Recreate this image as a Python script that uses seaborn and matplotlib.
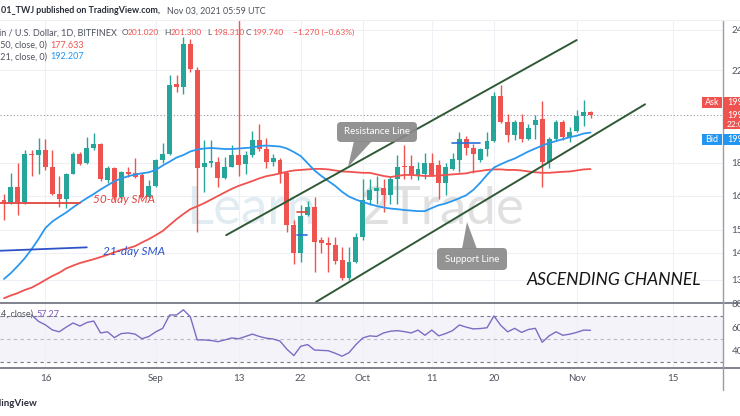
import numpy as np
import pandas as pd
import matplotlib
matplotlib.use("Agg")
import matplotlib.pyplot as plt
import matplotlib.dates as mdates
from matplotlib.patches import Rectangle, FancyBboxPatch, Polygon
from matplotlib.lines import Line2D
from matplotlib.ticker import NullLocator, NullFormatter
from matplotlib.transforms import IdentityTransform
import seaborn as sns

# ---------------- data ----------------
start_date = "2021-08-10"
open_ = [166.3, 165.5, 170.8, 165.5, 183.7, 183.1, 185.1, 178.3, 168.5, 166.5,
         175.9, 183.7, 179.8, 186.1, 187.6, 173.5, 178.0, 167.1, 176.4, 176.2,
         175.3, 167.1, 171.3, 181.1, 183.5, 213.3, 212.1, 232.5, 220.0, 178.3,
         179.8, 180.4, 174.4, 178.6, 183.1, 179.5, 183.1, 189.1, 185.4, 180.4,
         181.1, 176.2, 157.4, 148.3, 160.8, 163.7, 152.4, 151.5, 150.8, 145.8,
         140.3, 145.4, 153.5, 166.1, 169.3, 170.4, 167.9, 174.0, 178.9, 178.9,
         175.3, 175.6, 179.9, 179.1, 172.3, 177.6, 181.3, 189.4, 185.8, 181.2,
         185.4, 188.7, 207.9, 196.8, 191.1, 196.5, 189.7, 195.5, 197.8, 180.2,
         189.7, 196.5, 190.4, 193.0, 199.2, 201.02]
high = [168.3, 176.2, 179.8, 185.1, 185.1, 189.8, 189.4, 185.1, 175.0, 176.2,
        184.4, 184.4, 190.2, 192.1, 187.9, 178.8, 178.6, 176.9, 178.6, 182.1,
        176.0, 173.4, 181.4, 187.9, 217.7, 217.7, 236.5, 235.0, 221.6, 189.1,
        189.1, 182.5, 182.5, 187.2, 252.0, 184.6, 192.8, 195.6, 190.0, 183.5,
        181.8, 176.8, 159.1, 164.3, 165.9, 167.2, 153.4, 153.5, 153.5, 150.2,
        150.2, 154.6, 173.9, 173.9, 174.9, 173.9, 174.9, 183.1, 187.1, 183.1,
        180.5, 184.1, 184.1, 181.1, 180.1, 183.9, 192.6, 190.7, 187.4, 186.1,
        192.6, 209.8, 213.1, 200.1, 197.5, 200.1, 195.7, 199.6, 205.6, 190.4,
        197.5, 197.5, 194.6, 202.0, 206.4, 201.3]
low = [159.1, 164.9, 160.8, 164.9, 175.0, 175.6, 177.3, 167.9, 163.7, 163.2,
       175.6, 179.1, 179.5, 185.1, 173.2, 172.3, 166.0, 166.5, 174.8, 174.4,
       166.9, 166.9, 171.0, 179.8, 183.1, 210.0, 209.0, 219.0, 155.2, 169.2,
       178.6, 171.0, 173.7, 178.3, 175.0, 175.6, 182.5, 184.6, 178.0, 179.0,
       172.3, 154.9, 144.8, 145.4, 160.4, 142.3, 148.3, 142.3, 144.6, 139.8,
       139.8, 144.9, 152.4, 164.5, 164.7, 162.0, 164.7, 164.7, 174.0, 174.0,
       173.5, 174.0, 175.0, 166.5, 168.0, 177.3, 176.7, 183.1, 176.2, 180.5,
       182.6, 188.2, 196.1, 188.5, 189.1, 188.5, 189.0, 189.7, 171.0, 178.0,
       189.1, 189.1, 188.5, 192.3, 195.1, 198.31]
close = [165.6, 171.0, 165.5, 183.4, 183.1, 185.1, 178.3, 168.3, 166.5, 175.9,
         183.7, 179.5, 186.1, 187.6, 173.7, 178.2, 167.1, 176.4, 175.6, 174.7,
         167.1, 171.4, 181.1, 183.4, 212.9, 212.1, 232.5, 220.5, 178.0, 179.8,
         180.8, 174.4, 178.6, 183.1, 179.2, 183.1, 189.1, 185.4, 180.4, 181.8,
         175.6, 157.4, 148.3, 160.4, 163.7, 151.8, 151.3, 150.8, 145.6, 140.3,
         145.4, 153.5, 166.1, 169.8, 170.4, 167.9, 174.0, 178.6, 178.3, 175.3,
         177.8, 179.9, 175.4, 172.3, 178.6, 181.4, 189.4, 185.8, 183.6, 185.4,
         188.7, 207.9, 196.8, 191.1, 196.5, 189.7, 194.3, 197.5, 180.2, 189.7,
         196.5, 190.4, 192.4, 199.2, 201.0, 199.74]
sma50 = [134.4, 135.2, 135.9, 136.8, 137.5, 138.6, 139.8, 141.0, 142.0, 143.3,
         144.2, 145.0, 145.6, 146.2, 146.9, 147.6, 148.4, 149.2, 149.7, 150.4,
         151.6, 152.7, 154.0, 155.4, 157.4, 159.4, 161.2, 162.9, 163.9, 165.0,
         166.3, 167.6, 168.9, 170.2, 171.3, 172.2, 173.1, 174.1, 174.9, 175.4,
         176.0, 176.6, 177.1, 177.3, 177.5, 177.7, 177.7, 177.5, 177.1, 176.7,
         176.6, 176.4, 176.2, 176.2, 175.6, 175.0, 174.6, 175.0, 175.4, 175.4,
         175.2, 175.0, 175.0, 175.2, 175.4, 175.6, 175.8, 176.0, 176.6, 176.9,
         177.3, 177.5, 177.5, 177.3, 177.3, 177.1, 176.7, 176.4, 176.2, 176.2,
         176.4, 176.6, 176.7, 177.1, 177.5, 177.633]
sma21 = [140.1, 141.9, 144.1, 146.5, 149.4, 152.7, 156.4, 158.6, 160.2, 161.7,
         163.5, 165.2, 166.8, 168.3, 170.0, 171.5, 173.0, 174.1, 174.9, 175.6,
         176.0, 176.4, 177.3, 179.0, 180.5, 182.1, 183.1, 184.5, 185.3, 185.7,
         185.9, 185.7, 185.5, 185.5, 185.7, 185.9, 186.1, 186.7, 186.9, 186.7,
         186.5, 185.7, 184.3, 182.7, 179.9, 177.1, 175.0, 173.1, 171.3, 169.1,
         167.4, 166.3, 165.4, 164.7, 164.0, 163.5, 163.1, 162.9, 162.6, 162.4,
         162.2, 162.2, 163.3, 164.3, 164.9, 165.8, 166.8, 167.9, 169.8, 172.4,
         175.4, 178.2, 179.5, 180.7, 181.7, 183.1, 184.5, 185.7, 186.9, 187.9,
         188.7, 189.5, 190.3, 190.9, 191.8, 192.207]
nan = np.nan
rsi = [nan, nan, nan, nan, 70.5, 65.0, 62.0, 57.6, 56.0, 60.0,
       63.6, 61.0, 64.0, 65.3, 55.0, 56.0, 51.0, 54.5, 55.0, 54.0,
       50.0, 52.0, 56.0, 59.0, 70.5, 70.5, 75.0, 69.0, 49.0, 49.0,
       48.5, 47.5, 49.0, 50.7, 50.0, 52.0, 54.0, 52.0, 50.5, 49.8,
       48.0, 41.0, 35.5, 43.5, 45.0, 40.3, 40.0, 39.7, 37.5, 35.0,
       38.0, 45.0, 50.7, 52.5, 52.0, 55.0, 56.5, 57.0, 56.2, 55.0,
       57.5, 53.0, 57.5, 52.5, 54.5, 57.0, 61.9, 60.0, 58.5, 58.8,
       59.5, 69.7, 61.5, 56.0, 59.0, 55.5, 58.0, 59.0, 47.0, 52.5,
       56.0, 53.0, 54.0, 55.5, 57.5, 57.27]

# trend-line drawings: (day offset from first candle, price)
upper_days = [32.2, 83.0]
upper_price = [154.0, 234.7]
lower_days = [45.2, 92.9]
lower_price = [133.3, 204.3]
sma50_note_days = [-0.6, 11.0]
sma50_note_price = [165.0, 165.0]
sma21_note_days = [-0.6, 12.0]
sma21_note_price = [148.9, 150.0]
small_blue_days = [[42.5, 43.9], [64.9, 69.0]]
small_blue_price = [[154.0, 154.0], [187.9, 187.9]]
small_red_days = [42.5, 43.9]
small_red_price = [161.9, 161.9]

tick_dates = ["2021-08-16", "2021-09-01", "2021-09-13", "2021-09-22", "2021-10-01",
              "2021-10-11", "2021-10-20", "2021-11-01", "2021-11-15"]
tick_labels = ["16", "Sep", "13", "22", "Oct", "11", "20", "Nov", "15"]
price_ticks = [240.0, 220.0, 180.0, 167.6, 155.8, 148.2, 139.8]
price_tick_labels = ["240.000", "220.000", "180.000", "167.600", "155.800", "148.200", "139.800"]
rsi_ticks = [80, 60, 40]
rsi_tick_labels = ["80.00", "60.00", "40.00"]

# ---------------- style ----------------
sns.set_theme(style="white")
plt.rcParams["font.family"] = ["Lato", "DejaVu Sans"]

GREEN = "#26a69a"
RED = "#ef5350"
SMA_RED = "#f0524f"
SMA_BLUE = "#2b98f0"
CHANNEL = "#2f5a35"
GRID = "#eef0f5"
AXC = "#787b86"

W, H = 740, 416
fig = plt.figure(figsize=(W / 100, H / 100), dpi=100)
fig.patch.set_facecolor("white")
ID = IdentityTransform()


def box(l, t, r, b):
    return [l / W, 1 - b / H, (r - l) / W, (b - t) / H]


def P(x, y):
    return (x, H - y)


axp = fig.add_axes(box(0, 20, 723, 302))
axr = fig.add_axes(box(0, 302, 723, 368), sharex=axp)

dates = pd.date_range(start_date, periods=len(close), freq="D")
xn = mdates.date2num(dates)
x0 = xn[0]

o = np.array(open_)
c = np.array(close)
cols = np.where(c >= o, GREEN, RED)
body_lo = np.minimum(o, c)
body_h = np.maximum(np.abs(c - o), 0.35)

axp.set_yscale("log")
axp.vlines(xn, low, high, colors=cols, lw=1.0, zorder=3)
axp.bar(xn, body_h, bottom=body_lo, width=0.72, color=cols, linewidth=0, zorder=4)

sns.lineplot(x=xn, y=sma50, ax=axp, color=SMA_RED, lw=1.3, zorder=5, estimator=None)
sns.lineplot(x=xn, y=sma21, ax=axp, color=SMA_BLUE, lw=1.3, zorder=5, estimator=None)
sns.lineplot(x=x0 + np.array(upper_days), y=upper_price, ax=axp, color=CHANNEL, lw=1.4, zorder=6, estimator=None)
sns.lineplot(x=x0 + np.array(lower_days), y=lower_price, ax=axp, color=CHANNEL, lw=1.4, zorder=6, estimator=None)
sns.lineplot(x=x0 + np.array(sma50_note_days), y=sma50_note_price, ax=axp, color="#e2453f", lw=1.3, zorder=6, estimator=None)
sns.lineplot(x=x0 + np.array(sma21_note_days), y=sma21_note_price, ax=axp, color="#2e53c9", lw=1.3, zorder=6, estimator=None)
for d, p in zip(small_blue_days, small_blue_price):
    sns.lineplot(x=x0 + np.array(d), y=p, ax=axp, color="#2e6fd9", lw=1.2, zorder=6, estimator=None)
sns.lineplot(x=x0 + np.array(small_red_days), y=small_red_price, ax=axp, color="#e2453f", lw=1.2, zorder=6, estimator=None)

axp.text(x0 + 12.9, 166.4, "50-day SMA", color="#e2453f", fontsize=8.5, style="italic",
         ha="left", va="center", zorder=7)
axp.text(x0 + 14.3, 148.6, "21-day SMA", color="#2e53c9", fontsize=8.5, style="italic",
         ha="left", va="center", zorder=7)

# current price dotted line
axp.axhline(close[-1], color="#9598a1", lw=0.8, ls=(0, (1, 2)), zorder=2)

axp.set_xlim(x0 - 0.58, x0 + 104.2)
axp.set_ylim(133.3, 245.1)
axp.yaxis.set_minor_locator(NullLocator())
axp.yaxis.set_minor_formatter(NullFormatter())
axp.yaxis.tick_right()
axp.set_yticks(price_ticks)
axp.set_yticklabels(price_tick_labels)
axp.tick_params(axis="y", length=0, pad=6, labelsize=7, colors="#50535e")
axp.set_xticks(mdates.date2num(pd.to_datetime(tick_dates)))
axp.tick_params(axis="x", length=0, labelbottom=False)
axp.grid(True, color=GRID, lw=0.8)
axp.set_axisbelow(True)
axp.set_xlabel("")
axp.set_ylabel("")
for s in axp.spines.values():
    s.set_visible(False)

# watermark
axp.text(186, H - 210, "Learn", transform=ID, fontsize=38, color="#c9dde9", alpha=0.55,
         ha="left", va="center", zorder=1)
axp.text(524, H - 210, "2Trade", transform=ID, fontsize=38, color="#c8c8c8", alpha=0.55,
         ha="right", va="center", zorder=1)

# callouts
def callout(l, t, r, b, tail, label):
    p = FancyBboxPatch(P(l, b), r - l, b - t, boxstyle="round,pad=0,rounding_size=4",
                       transform=ID, fc="#8a8a8a", ec="none", alpha=0.92, zorder=8)
    fig.add_artist(p)
    tri = Polygon([P(*pt) for pt in tail], closed=True, transform=ID, fc="#8a8a8a",
                  ec="none", alpha=0.92, zorder=8)
    fig.add_artist(tri)
    fig.text((l + r) / 2, H - (t + b) / 2, label, transform=ID, color="white", fontsize=7,
             ha="center", va="center", zorder=9)


callout(337, 122, 417, 142, [(354, 141), (372, 141), (348, 167)], "Resistance Line")
callout(437, 248, 507, 270, [(462, 249), (477, 249), (467, 222)], "Support Line")

fig.text(614, H - 280, "ASCENDING CHANNEL", transform=ID, fontsize=12.6, style="italic",
         family=["Liberation Sans Narrow", "Lato", "DejaVu Sans"], color="#151515",
         ha="center", va="center")

# ---------------- RSI panel ----------------
axr.axhspan(30, 70, color="#7e57c2", alpha=0.07, lw=0, zorder=0)
axr.axhline(70, color=AXC, lw=0.8, ls=(0, (3, 3)), zorder=1)
axr.axhline(30, color=AXC, lw=0.8, ls=(0, (3, 3)), zorder=1)
axr.axhline(50, color="#b8bbc4", lw=0.8, ls=(0, (3, 3)), zorder=1)
sns.lineplot(x=xn, y=rsi, ax=axr, color="#7e6bc4", lw=1.0, zorder=3, estimator=None)
axr.set_ylim(24.8, 81.7)
axr.yaxis.tick_right()
axr.set_yticks(rsi_ticks)
axr.set_yticklabels(rsi_tick_labels)
axr.tick_params(axis="y", length=0, pad=6, labelsize=7, colors="#50535e")
axr.set_xticks(mdates.date2num(pd.to_datetime(tick_dates)))
axr.set_xticklabels(tick_labels)
axr.tick_params(axis="x", length=0, pad=4, labelsize=7, colors="#50535e")
axr.grid(True, axis="x", color=GRID, lw=0.8)
axr.grid(False, axis="y")
axr.set_axisbelow(True)
axr.set_xlabel("")
axr.set_ylabel("")
for s in axr.spines.values():
    s.set_visible(False)
axr.set_xlim(x0 - 0.58, x0 + 104.2)

# frame lines
for (xa, ya, xb, yb, col, lw) in [(0, 302.5, 740, 302.5, "#6b6e78", 1.2),
                                  (0, 368, 740, 368, "#6b6e78", 1.2),
                                  (723, 20, 723, 390, "#9a9da6", 1.0),
                                  (0, 20, 740, 20, "#eef0f4", 0.8)]:
    fig.add_artist(Line2D([xa, xb], [H - ya, H - yb], transform=ID, color=col, lw=lw, zorder=10))

# Ask / Bid labels
for (l, t, r, b, col) in [(702, 97, 722, 108, "#ef5350"), (723, 97, 742, 129, "#ef5350"),
                          (702, 134, 722, 145, "#2196f3"), (723, 134, 742, 145, "#2196f3")]:
    fig.add_artist(Rectangle(P(l, b), r - l, b - t, transform=ID, fc=col, ec="none", zorder=11))
for (x, y, s, fs) in [(712, 102.5, "Ask", 6.5), (712, 139.5, "Bid", 6.5)]:
    fig.text(x, H - y, s, transform=ID, color="white", fontsize=fs, ha="center", va="center", zorder=12)
for (x, y, s, fs) in [(727, 102.5, "199.880", 6.5), (727, 115.5, "199.740", 6.5),
                      (727, 124.5, "22:00:45", 6.0), (727, 139.5, "199.590", 6.5)]:
    fig.text(x, H - y, s, transform=ID, color="white", fontsize=fs, ha="left", va="center", zorder=12)

# ---------------- legend / header texts ----------------
fig.text(1, H - 10.7, "01_TWJ published on TradingView.com,", transform=ID, fontsize=6.4,
         weight="bold", color="#2a2e39", ha="left", va="center")
fig.text(167, H - 10.7, "Nov 03, 2021 05:59 UTC", transform=ID, fontsize=6.4,
         color="#50535e", ha="left", va="center")

GRAY = "#50535e"
y1 = H - 32.7
fig.text(117, y1, "Litecoin / U.S. Dollar, 1D, BITFINEX", transform=ID, fontsize=6.5,
         color=GRAY, ha="right", va="center")
for (x, lab, val) in [(122, "O", "201.020"), (164.5, "H", "201.300"), (207, "L", "198.310"),
                      (246, "C", "199.740")]:
    fig.text(x, y1, lab, transform=ID, fontsize=6.0, color=GRAY, ha="left", va="center")
    fig.text(x + 6.0, y1, val, transform=ID, fontsize=6.0, color=RED, ha="left", va="center")
fig.text(293, y1, "\u22121.270 (\u22120.63%)", transform=ID, fontsize=6.0, color=RED,
         ha="left", va="center")

fig.text(47, H - 45, "MA (50, close, 0)", transform=ID, fontsize=6.5, color=GRAY,
         ha="right", va="center")
fig.text(50, H - 45, "177.633", transform=ID, fontsize=6.5, color=RED, ha="left", va="center")
fig.text(47, H - 56.7, "MA (21, close, 0)", transform=ID, fontsize=6.5, color=GRAY,
         ha="right", va="center")
fig.text(50, H - 56.7, "192.207", transform=ID, fontsize=6.5, color="#2196f3", ha="left", va="center")

fig.text(33, H - 314.5, "RSI (14, close)", transform=ID, fontsize=6.5, color=GRAY,
         ha="right", va="center", zorder=12)
fig.text(37, H - 314.5, "57.27", transform=ID, fontsize=6.5, color="#7e57c2",
         ha="left", va="center", zorder=12)

fig.text(38, H - 403, "TradingView", transform=ID, fontsize=7, weight="bold",
         color="#2a2e39", ha="right", va="center")

fig.savefig("out.png", dpi=100, facecolor="white")
